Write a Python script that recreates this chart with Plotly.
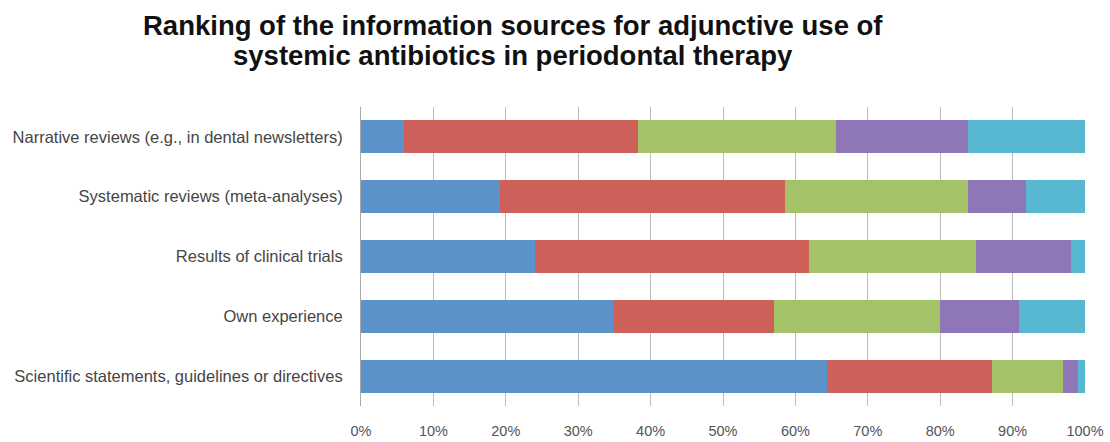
import plotly.graph_objects as go

categories = [
    "Narrative reviews (e.g., in dental newsletters)",
    "Systematic reviews (meta-analyses)",
    "Results of clinical trials",
    "Own experience",
    "Scientific statements, guidelines or directives",
]
rank_names = ["Rank 1", "Rank 2", "Rank 3", "Rank 4", "Rank 5"]
rank1 = [6.0, 19.2, 24.1, 34.9, 64.4]
rank2 = [32.3, 39.4, 37.8, 22.1, 22.8]
rank3 = [27.3, 25.2, 23.1, 23.0, 9.8]
rank4 = [18.2, 8.1, 13.0, 10.9, 2.0]
rank5 = [16.2, 8.1, 2.0, 9.1, 1.0]
colors = ["#5B92C9", "#CE605A", "#A4C268", "#8F76B6", "#58B8D2"]
tick_vals = [0, 10, 20, 30, 40, 50, 60, 70, 80, 90, 100]
tick_text = ["0%", "10%", "20%", "30%", "40%", "50%", "60%", "70%", "80%", "90%", "100%"]
title_lines = [
    "Ranking of the information sources for adjunctive use of",
    "systemic antibiotics in periodontal therapy",
]

W, H = 1110, 442
M_L, M_R, M_T, M_B = 361, 25, 107, 36
PH = H - M_T - M_B
PW = W - M_L - M_R

fig = go.Figure()
for name, vals, c in zip(rank_names, [rank1, rank2, rank3, rank4, rank5], colors):
    fig.add_trace(go.Bar(
        y=categories, x=vals, name=name, orientation="h",
        marker=dict(color=c, line=dict(width=0)),
    ))

title_font = dict(family="Liberation Sans, Arial", size=27.5, color="#111111", weight="bold")
for line, ypx in zip(title_lines, [25.5, 55.5]):
    fig.add_annotation(
        text=line, showarrow=False,
        xref="paper", yref="paper",
        x=(513 - M_L) / PW, y=1 + (M_T - ypx) / PH,
        xanchor="center", yanchor="middle",
        font=title_font,
    )

fig.update_layout(
    width=W, height=H,
    barmode="stack", bargap=0.45,
    showlegend=False,
    paper_bgcolor="white", plot_bgcolor="white",
    margin=dict(l=M_L, r=M_R, t=M_T, b=M_B, autoexpand=False),
    font=dict(family="Liberation Sans, Arial"),
)
fig.update_xaxes(
    range=[0, 100], tickvals=tick_vals, ticktext=tick_text,
    showgrid=True, gridcolor="#BDBDBD", gridwidth=1,
    zeroline=False, showline=False, automargin=False,
    tickfont=dict(family="Liberation Sans, Arial", size=14.5, color="#555555"),
    ticklabelstandoff=14,
)
fig.update_yaxes(
    autorange="reversed", automargin=False,
    showgrid=False, showline=True, linecolor="#A8A8A8", linewidth=1,
    tickfont=dict(family="Liberation Sans, Arial", size=16.5, color="#454545"),
    ticklabelstandoff=14,
)

fig.write_html("out.html")
